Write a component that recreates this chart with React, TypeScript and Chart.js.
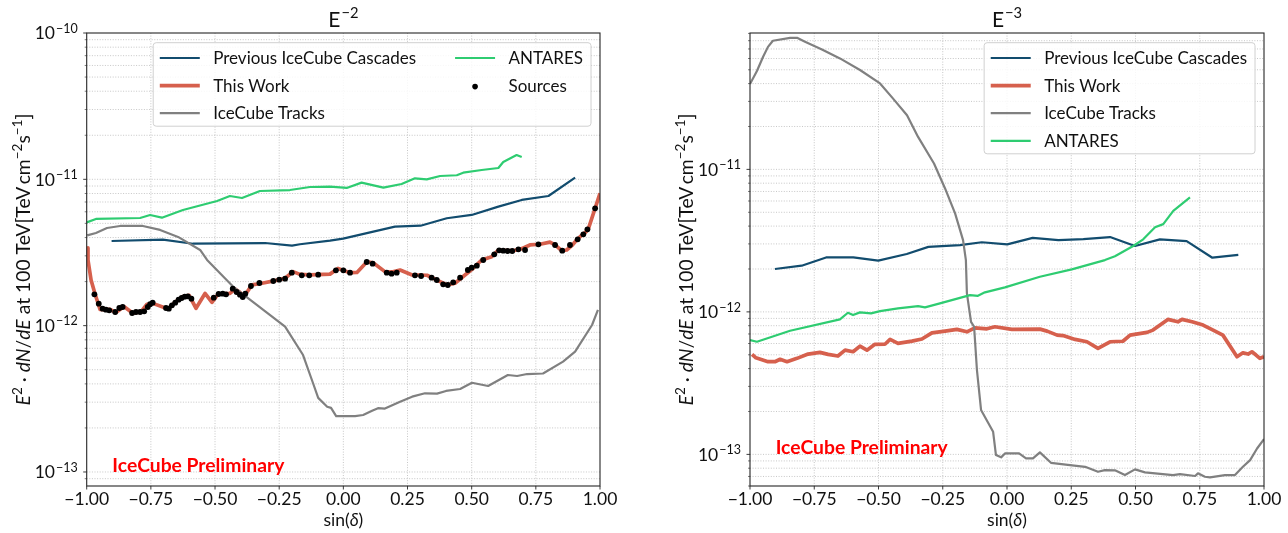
import React, { useEffect, useRef } from "react";
import { Chart, registerables } from "chart.js";
Chart.register(...registerables);

const FONT = "Lato, 'DejaVu Sans', sans-serif";
const MINUS = "\u2212";

// ---------------- Data: E^-2 panel ----------------
const prevE2X = [-0.903, -0.703, -0.586, -0.305, -0.2, -0.169, -0.052, -0.001, 0.201, 0.301, 0.403, 0.5, 0.604, 0.695, 0.799, 0.903];
const prevE2Y = [3.79e-12, 3.87e-12, 3.63e-12, 3.67e-12, 3.52e-12, 3.6e-12, 3.81e-12, 3.93e-12, 4.75e-12, 4.82e-12, 5.42e-12, 5.71e-12, 6.51e-12, 7.23e-12, 7.69e-12, 1.026e-11];

const thisE2X = [-0.998, -0.995, -0.983, -0.968, -0.948, -0.933, -0.909, -0.886, -0.855, -0.82, -0.788, -0.765, -0.742, -0.683, -0.656, -0.625, -0.601, -0.574, -0.539, -0.512, -0.488, -0.442, -0.422, -0.403, -0.387, -0.356, -0.317, -0.266, -0.227, -0.196, -0.169, -0.13, -0.052, -0.021, 0.026, 0.053, 0.092, 0.116, 0.162, 0.193, 0.221, 0.268, 0.326, 0.377, 0.404, 0.435, 0.474, 0.505, 0.539, 0.578, 0.604, 0.662, 0.695, 0.727, 0.766, 0.805, 0.825, 0.851, 0.87, 0.89, 0.909, 0.922, 0.942, 0.954, 0.981, 1.0];
const thisE2Y = [3.4e-12, 2.81e-12, 2.05e-12, 1.66e-12, 1.29e-12, 1.285e-12, 1.29e-12, 1.227e-12, 1.35e-12, 1.215e-12, 1.246e-12, 1.4e-12, 1.42e-12, 1.3e-12, 1.445e-12, 1.58e-12, 1.61e-12, 1.315e-12, 1.66e-12, 1.445e-12, 1.64e-12, 1.66e-12, 1.78e-12, 1.69e-12, 1.58e-12, 1.9e-12, 1.95e-12, 2.03e-12, 2.11e-12, 2.34e-12, 2.24e-12, 2.22e-12, 2.25e-12, 2.46e-12, 2.3e-12, 2.31e-12, 2.73e-12, 2.69e-12, 2.34e-12, 2.33e-12, 2.4e-12, 2.22e-12, 2.21e-12, 2.0e-12, 1.9e-12, 1.95e-12, 2.22e-12, 2.46e-12, 2.81e-12, 2.96e-12, 3.29e-12, 3.25e-12, 3.36e-12, 3.56e-12, 3.6e-12, 3.72e-12, 3.56e-12, 3.25e-12, 3.29e-12, 3.52e-12, 3.85e-12, 4.05e-12, 4.32e-12, 4.55e-12, 6.34e-12, 8.02e-12];

const tracksE2X = [-0.998, -0.964, -0.921, -0.87, -0.781, -0.714, -0.644, -0.558, -0.531, -0.43, -0.336, -0.227, -0.157, -0.118, -0.098, -0.063, -0.048, -0.028, 0.046, 0.077, 0.112, 0.135, 0.162, 0.221, 0.268, 0.318, 0.365, 0.4, 0.455, 0.501, 0.564, 0.641, 0.677, 0.716, 0.778, 0.856, 0.903, 0.969, 0.992];
const tracksE2Y = [4.14e-12, 4.3e-12, 4.65e-12, 4.8e-12, 4.8e-12, 4.51e-12, 4.04e-12, 3.29e-12, 2.81e-12, 1.85e-12, 1.38e-12, 9.84e-13, 6.3e-13, 4.04e-13, 3.21e-13, 2.79e-13, 2.74e-13, 2.41e-13, 2.41e-13, 2.45e-13, 2.62e-13, 2.73e-13, 2.71e-13, 3.02e-13, 3.27e-13, 3.45e-13, 3.43e-13, 3.58e-13, 3.69e-13, 4.07e-13, 3.87e-13, 4.6e-13, 4.53e-13, 4.67e-13, 4.71e-13, 5.68e-13, 6.64e-13, 1.01e-12, 1.28e-12];

const antaresE2X = [-1, -0.964, -0.792, -0.753, -0.707, -0.625, -0.492, -0.442, -0.395, -0.325, -0.208, -0.13, -0.052, 0.013, 0.071, 0.156, 0.227, 0.279, 0.325, 0.377, 0.442, 0.467, 0.539, 0.604, 0.623, 0.675, 0.695];
const antaresE2Y = [5.08e-12, 5.36e-12, 5.44e-12, 5.7e-12, 5.47e-12, 6.17e-12, 7.11e-12, 7.69e-12, 7.45e-12, 8.32e-12, 8.45e-12, 8.86e-12, 8.91e-12, 8.73e-12, 9.49e-12, 8.77e-12, 9.29e-12, 1.016e-11, 1.0e-11, 1.054e-11, 1.066e-11, 1.11e-11, 1.158e-11, 1.195e-11, 1.313e-11, 1.466e-11, 1.42e-11];

const sourcesX = [-0.97, -0.953, -0.938, -0.925, -0.912, -0.889, -0.873, -0.86, -0.823, -0.808, -0.792, -0.776, -0.762, -0.753, -0.743, -0.691, -0.68, -0.668, -0.655, -0.642, -0.63, -0.618, -0.606, -0.592, -0.505, -0.486, -0.47, -0.457, -0.431, -0.416, -0.403, -0.392, -0.382, -0.36, -0.327, -0.273, -0.25, -0.227, -0.201, -0.162, -0.133, -0.098, -0.029, 0.0, 0.026, 0.091, 0.114, 0.169, 0.188, 0.208, 0.279, 0.303, 0.344, 0.364, 0.389, 0.407, 0.428, 0.455, 0.485, 0.5, 0.52, 0.545, 0.588, 0.607, 0.623, 0.64, 0.658, 0.682, 0.708, 0.76, 0.825, 0.853, 0.883, 0.913, 0.935, 0.951, 0.981];
const sourcesY = [1.638e-12, 1.413e-12, 1.306e-12, 1.285e-12, 1.273e-12, 1.24e-12, 1.32e-12, 1.341e-12, 1.22e-12, 1.24e-12, 1.24e-12, 1.253e-12, 1.341e-12, 1.4e-12, 1.435e-12, 1.32e-12, 1.306e-12, 1.378e-12, 1.435e-12, 1.504e-12, 1.545e-12, 1.577e-12, 1.587e-12, 1.528e-12, 1.552e-12, 1.646e-12, 1.653e-12, 1.638e-12, 1.789e-12, 1.698e-12, 1.628e-12, 1.57e-12, 1.653e-12, 1.866e-12, 1.956e-12, 2.019e-12, 2.061e-12, 2.094e-12, 2.301e-12, 2.208e-12, 2.208e-12, 2.229e-12, 2.389e-12, 2.389e-12, 2.301e-12, 2.723e-12, 2.651e-12, 2.301e-12, 2.265e-12, 2.301e-12, 2.208e-12, 2.184e-12, 2.126e-12, 2.051e-12, 1.917e-12, 1.896e-12, 1.978e-12, 2.126e-12, 2.4e-12, 2.489e-12, 2.568e-12, 2.81e-12, 3.074e-12, 3.273e-12, 3.252e-12, 3.237e-12, 3.237e-12, 3.324e-12, 3.289e-12, 3.597e-12, 3.558e-12, 3.252e-12, 3.558e-12, 3.89e-12, 4.21e-12, 4.555e-12, 6.339e-12];

// ---------------- Data: E^-3 panel ----------------
const prevE3X = [-0.903, -0.799, -0.704, -0.598, -0.501, -0.39, -0.306, -0.183, -0.098, 0.001, 0.1, 0.2, 0.297, 0.401, 0.498, 0.595, 0.699, 0.799, 0.9];
const prevE3Y = [2.0e-12, 2.11e-12, 2.41e-12, 2.41e-12, 2.29e-12, 2.55e-12, 2.86e-12, 2.94e-12, 3.08e-12, 2.98e-12, 3.31e-12, 3.19e-12, 3.24e-12, 3.35e-12, 2.9e-12, 3.23e-12, 3.14e-12, 2.4e-12, 2.51e-12];

const thisE3X = [-0.992, -0.977, -0.93, -0.903, -0.883, -0.856, -0.817, -0.774, -0.728, -0.696, -0.658, -0.63, -0.599, -0.572, -0.545, -0.514, -0.475, -0.455, -0.424, -0.37, -0.331, -0.292, -0.241, -0.195, -0.156, -0.125, -0.078, -0.047, 0.019, 0.128, 0.156, 0.195, 0.218, 0.265, 0.311, 0.354, 0.401, 0.451, 0.479, 0.545, 0.568, 0.626, 0.665, 0.681, 0.72, 0.763, 0.802, 0.84, 0.895, 0.918, 0.938, 0.953, 0.969, 0.984, 1.0];
const thisE3Y = [5.03e-13, 4.76e-13, 4.47e-13, 4.47e-13, 4.65e-13, 4.47e-13, 4.72e-13, 5.06e-13, 5.2e-13, 5.03e-13, 4.9e-13, 5.39e-13, 5.25e-13, 5.75e-13, 5.39e-13, 5.92e-13, 5.93e-13, 6.41e-13, 6.01e-13, 6.24e-13, 6.45e-13, 7.13e-13, 7.33e-13, 7.54e-13, 7.25e-13, 7.73e-13, 7.61e-13, 7.86e-13, 7.54e-13, 7.57e-13, 7.33e-13, 6.87e-13, 6.82e-13, 6.41e-13, 6.17e-13, 5.54e-13, 6.17e-13, 6.22e-13, 6.87e-13, 7.18e-13, 7.45e-13, 8.86e-13, 8.52e-13, 8.86e-13, 8.52e-13, 8.08e-13, 7.45e-13, 6.87e-13, 4.84e-13, 5.16e-13, 5.06e-13, 5.25e-13, 4.98e-13, 4.72e-13, 4.84e-13];

const tracksE3X = [-1, -0.973, -0.949, -0.93, -0.911, -0.844, -0.817, -0.786, -0.72, -0.65, -0.572, -0.494, -0.444, -0.389, -0.346, -0.284, -0.241, -0.202, -0.171, -0.16, -0.156, -0.14, -0.128, -0.117, -0.101, -0.054, -0.043, -0.023, -0.008, 0.047, 0.074, 0.101, 0.128, 0.171, 0.245, 0.304, 0.354, 0.381, 0.42, 0.459, 0.498, 0.537, 0.646, 0.673, 0.732, 0.743, 0.77, 0.79, 0.848, 0.887, 0.918, 0.946, 0.973, 1.0];
const tracksE3Y = [3.97e-11, 4.9e-11, 6.17e-11, 7.24e-11, 7.99e-11, 8.38e-11, 8.38e-11, 7.86e-11, 6.95e-11, 6.01e-11, 4.98e-11, 4.01e-11, 3.15e-11, 2.4e-11, 1.69e-11, 1.1e-11, 7.35e-12, 4.91e-12, 3.19e-12, 2.31e-12, 1.35e-12, 8.52e-13, 7.86e-13, 3.91e-13, 2.05e-13, 1.44e-13, 9.89e-14, 9.53e-14, 1.016e-13, 1.016e-13, 9.38e-14, 9.38e-14, 1.033e-13, 8.73e-14, 8.41e-14, 8.18e-14, 7.55e-14, 7.76e-14, 7.73e-14, 7.16e-14, 7.85e-14, 7.48e-14, 7.16e-14, 7.27e-14, 7.05e-14, 7.36e-14, 6.97e-14, 6.9e-14, 7.16e-14, 7.16e-14, 8.18e-14, 9.12e-14, 1.1e-13, 1.28e-13];

const antaresE3X = [-1, -0.973, -0.844, -0.65, -0.619, -0.599, -0.572, -0.529, -0.494, -0.424, -0.346, -0.319, -0.261, -0.144, -0.113, -0.086, -0.008, 0.128, 0.252, 0.381, 0.42, 0.491, 0.53, 0.576, 0.608, 0.647, 0.712];
const antaresE3Y = [6.34e-13, 6.17e-13, 7.37e-13, 8.86e-13, 9.86e-13, 9.5e-13, 9.92e-13, 9.76e-13, 1.013e-12, 1.058e-12, 1.098e-12, 1.075e-12, 1.147e-12, 1.312e-12, 1.297e-12, 1.371e-12, 1.486e-12, 1.763e-12, 1.987e-12, 2.31e-12, 2.46e-12, 2.9e-12, 3.23e-12, 3.92e-12, 4.13e-12, 5.12e-12, 6.36e-12];

// axis ranges and labels
const xTicks = [-1, -0.75, -0.5, -0.25, 0, 0.25, 0.5, 0.75, 1];
const yRangeE2 = [8.02e-14, 1e-10];
const yRangeE3 = [6.0e-14, 9.06e-11];
const titleE2 = ["E", MINUS + "2"];
const titleE3 = ["E", MINUS + "3"];
const LBL_PREV = "Previous IceCube Cascades";
const LBL_THIS = "This Work";
const LBL_TRACKS = "IceCube Tracks";
const LBL_ANTARES = "ANTARES";
const LBL_SOURCES = "Sources";
const WATERMARK = "IceCube Preliminary";

// ---------------- styles ----------------
const C_PREV = "#124c6e";
const C_THIS = "#d6604d";
const C_TRACKS = "#808080";
const C_ANTARES = "#2ecc71";
const C_GRID = "#b9b9b9";

function pts(xs: number[], ys: number[]) {
  return xs.map((x, i) => ({ x, y: ys[i] }));
}

function lineDs(label: string, xs: number[], ys: number[], color: string, width: number, order: number) {
  return {
    label,
    data: pts(xs, ys),
    borderColor: color,
    backgroundColor: color,
    borderWidth: width,
    pointRadius: 0,
    tension: 0,
    fill: false,
    borderJoinStyle: "round",
    order,
  };
}

function logTicks(min: number, max: number) {
  const out: any[] = [];
  for (let e = Math.floor(Math.log10(min)); e <= Math.ceil(Math.log10(max)); e++) {
    for (let k = 1; k <= 9; k++) {
      const v = parseFloat((k * Math.pow(10, e)).toPrecision(8));
      if (v >= min * 0.999999 && v <= max * 1.000001) out.push({ value: v, major: k === 1 });
    }
  }
  return out;
}

function fmtTick(v: number) {
  const s = Math.abs(v).toFixed(2);
  return v < -1e-9 ? MINUS + s : s;
}

type Seg = { t: string; it?: boolean; sup?: boolean };

const yTitleSegs: Seg[] = [
  { t: "E", it: true },
  { t: "2", sup: true },
  { t: " \u00b7 " },
  { t: "dN", it: true },
  { t: "/" },
  { t: "dE", it: true },
  { t: " at 100 TeV[TeV\u2009cm" },
  { t: MINUS + "2", sup: true },
  { t: "s" },
  { t: MINUS + "1", sup: true },
  { t: "]" },
];

function segFont(s: Seg, size: number) {
  const sz = s.sup ? size * 0.7 : size;
  return `${s.it ? "italic " : ""}${sz}px ${FONT}`;
}

function measureSegs(ctx: CanvasRenderingContext2D, segs: Seg[], size: number) {
  let w = 0;
  for (const s of segs) {
    ctx.font = segFont(s, size);
    w += ctx.measureText(s.t).width;
  }
  return w;
}

function drawSegs(ctx: CanvasRenderingContext2D, segs: Seg[], x: number, y: number, size: number) {
  let cx = x;
  ctx.textAlign = "left";
  ctx.textBaseline = "alphabetic";
  for (const s of segs) {
    ctx.font = segFont(s, size);
    ctx.fillText(s.t, cx, s.sup ? y - size * 0.42 : y);
    cx += ctx.measureText(s.t).width;
  }
}

type Spec = {
  title: string[];
  yRange: number[];
  datasets: any[];
  legendCols: string[][];
  yAxisWidth: number;
  canvasWidth: number;
  padRight: number;
};

function makePlugin(spec: Spec) {
  return {
    id: "decor",
    beforeDatasetsDraw(chart: any) {
      const { ctx, chartArea: a, scales } = chart;
      const xs = scales.x;
      const ys = scales.y;
      ctx.save();
      ctx.strokeStyle = C_GRID;
      ctx.lineWidth = 0.8;
      ctx.setLineDash([1, 1.6]);
      for (const t of xs.ticks) {
        const px = xs.getPixelForValue(t.value);
        if (px <= a.left + 0.5 || px >= a.right - 0.5) continue;
        ctx.beginPath();
        ctx.moveTo(px, a.top);
        ctx.lineTo(px, a.bottom);
        ctx.stroke();
      }
      for (const t of ys.ticks) {
        const py = ys.getPixelForValue(t.value);
        if (py <= a.top + 0.5 || py >= a.bottom - 0.5) continue;
        ctx.beginPath();
        ctx.moveTo(a.left, py);
        ctx.lineTo(a.right, py);
        ctx.stroke();
      }
      ctx.restore();
    },
    afterDraw(chart: any) {
      const { ctx, chartArea: a, scales } = chart;
      const xs = scales.x;
      const ys = scales.y;
      ctx.save();
      // frame
      ctx.strokeStyle = "#262626";
      ctx.lineWidth = 1.1;
      ctx.setLineDash([]);
      ctx.strokeRect(a.left, a.top, a.right - a.left, a.bottom - a.top);
      // x ticks
      ctx.lineWidth = 0.9;
      for (const t of xs.ticks) {
        const px = xs.getPixelForValue(t.value);
        ctx.beginPath();
        ctx.moveTo(px, a.bottom);
        ctx.lineTo(px, a.bottom + 3.5);
        ctx.stroke();
      }
      // y ticks
      for (const t of ys.ticks) {
        const py = ys.getPixelForValue(t.value);
        const len = t.major ? 3.5 : 2;
        ctx.lineWidth = t.major ? 0.9 : 0.6;
        ctx.beginPath();
        ctx.moveTo(a.left - len, py);
        ctx.lineTo(a.left, py);
        ctx.stroke();
      }
      // y tick labels 10^n
      ctx.fillStyle = "#111";
      ctx.textBaseline = "alphabetic";
      for (const t of ys.ticks) {
        if (!t.major) continue;
        const py = ys.getPixelForValue(t.value);
        const e = Math.round(Math.log10(t.value));
        const supTxt = (e < 0 ? MINUS : "") + Math.abs(e);
        ctx.font = `12.5px ${FONT}`;
        const ws = ctx.measureText(supTxt).width;
        ctx.font = `17.5px ${FONT}`;
        const wb = ctx.measureText("10").width;
        const right = a.left - 9;
        ctx.textAlign = "left";
        ctx.fillText("10", right - ws - wb - 1, py + 6.3);
        ctx.font = `12.5px ${FONT}`;
        ctx.fillText(supTxt, right - ws, py - 0.3);
      }
      // title
      const cxm = (a.left + a.right) / 2;
      ctx.font = `21px ${FONT}`;
      const wE = ctx.measureText(spec.title[0]).width;
      ctx.font = `14.7px ${FONT}`;
      const wS = ctx.measureText(spec.title[1]).width;
      const tx = cxm - (wE + 1 + wS) / 2;
      ctx.textAlign = "left";
      ctx.font = `21px ${FONT}`;
      ctx.fillText(spec.title[0], tx, 26.7);
      ctx.font = `14.7px ${FONT}`;
      ctx.fillText(spec.title[1], tx + wE + 1, 18.3);
      // x title sin(δ)
      const xt: Seg[] = [{ t: "sin(" }, { t: "\u03b4", it: true }, { t: ")" }];
      const wx = measureSegs(ctx, xt, 17.5);
      drawSegs(ctx, xt, cxm - wx / 2, 526, 17.5);
      // y title
      const base = 17;
      const wy = measureSegs(ctx, yTitleSegs, base);
      const size = base * (292 / wy);
      const wy2 = measureSegs(ctx, yTitleSegs, size);
      ctx.save();
      ctx.translate(a.left - 57, (a.top + a.bottom) / 2);
      ctx.rotate(-Math.PI / 2);
      drawSegs(ctx, yTitleSegs, -wy2 / 2, 0, size);
      ctx.restore();
      // watermark
      ctx.fillStyle = "#ff0000";
      ctx.font = `bold 19.3px ${FONT}`;
      ctx.textAlign = "left";
      ctx.fillText(WATERMARK, xs.getPixelForValue(-0.9), ys.getPixelForValue(1e-13));
      // legend
      drawLegend(ctx, chart, spec, a);
      ctx.restore();
    },
  };
}

function drawLegend(ctx: CanvasRenderingContext2D, chart: any, spec: Spec, a: any) {
  const fs = 17;
  ctx.font = `${fs}px ${FONT}`;
  const handle = 40;
  const textPad = 13.4;
  const colSpace = 39;
  const padL = 6.6;
  const padR = 8;
  const rowH = 27.6;
  const colW = spec.legendCols.map((col) => handle + textPad + Math.max(...col.map((l) => ctx.measureText(l).width)));
  const nRows = Math.max(...spec.legendCols.map((c) => c.length));
  const boxW = padL + colW.reduce((s, w) => s + w, 0) + colSpace * (spec.legendCols.length - 1) + padR;
  const boxH = 15.3 + (nRows - 1) * rowH + 13;
  const right = a.right - 9;
  const left = right - boxW;
  const top = a.top + 9.7;
  // box
  ctx.save();
  ctx.beginPath();
  const r = 3;
  ctx.moveTo(left + r, top);
  ctx.lineTo(right - r, top);
  ctx.quadraticCurveTo(right, top, right, top + r);
  ctx.lineTo(right, top + boxH - r);
  ctx.quadraticCurveTo(right, top + boxH, right - r, top + boxH);
  ctx.lineTo(left + r, top + boxH);
  ctx.quadraticCurveTo(left, top + boxH, left, top + boxH - r);
  ctx.lineTo(left, top + r);
  ctx.quadraticCurveTo(left, top, left + r, top);
  ctx.closePath();
  ctx.fillStyle = "rgba(255,255,255,0.85)";
  ctx.fill();
  ctx.strokeStyle = "#d0d0d0";
  ctx.lineWidth = 1;
  ctx.stroke();
  ctx.restore();
  const dsByLabel: any = {};
  for (const d of chart.data.datasets) dsByLabel[d.label] = d;
  let cx = left + padL;
  spec.legendCols.forEach((col, ci) => {
    col.forEach((label, ri) => {
      const cy = top + 15.3 + ri * rowH;
      const d = dsByLabel[label];
      if (d.showLine === false) {
        ctx.beginPath();
        ctx.fillStyle = "#000";
        ctx.arc(cx + handle / 2, cy + 1, 2.8, 0, Math.PI * 2);
        ctx.fill();
      } else {
        ctx.beginPath();
        ctx.strokeStyle = d.borderColor;
        ctx.lineWidth = d.borderWidth;
        ctx.setLineDash([]);
        ctx.moveTo(cx, cy);
        ctx.lineTo(cx + handle, cy);
        ctx.stroke();
      }
      ctx.fillStyle = "#111";
      ctx.font = `${fs}px ${FONT}`;
      ctx.textAlign = "left";
      ctx.textBaseline = "alphabetic";
      ctx.fillText(label, cx + handle + textPad, cy + 6.2);
    });
    cx += colW[ci] + colSpace;
  });
}

function buildConfig(spec: Spec): any {
  return {
    type: "line",
    data: { datasets: spec.datasets },
    options: {
      responsive: false,
      animation: false,
      devicePixelRatio: 1,
      events: [],
      layout: { padding: { top: 33, right: spec.padRight, left: 0, bottom: 0 } },
      plugins: { legend: { display: false }, tooltip: { enabled: false }, title: { display: false } },
      scales: {
        x: {
          type: "linear",
          min: -1,
          max: 1,
          grid: { display: false, drawTicks: false },
          border: { display: false },
          afterBuildTicks: (s: any) => {
            s.ticks = xTicks.map((v) => ({ value: v }));
          },
          ticks: {
            autoSkip: false,
            maxRotation: 0,
            padding: 3,
            color: "#111",
            font: { family: FONT, size: 17.5 },
            callback: (v: any) => fmtTick(Number(v)),
          },
          afterFit: (s: any) => {
            s.height = 47;
          },
        },
        y: {
          type: "logarithmic",
          min: spec.yRange[0],
          max: spec.yRange[1],
          grid: { display: false, drawTicks: false },
          border: { display: false },
          ticks: { display: false, callback: () => "" },
          afterBuildTicks: (s: any) => {
            s.ticks = logTicks(spec.yRange[0], spec.yRange[1]);
          },
          afterFit: (s: any) => {
            s.width = spec.yAxisWidth;
          },
        },
      },
    },
    plugins: [makePlugin(spec)],
  };
}

const specE2: Spec = {
  title: titleE2,
  yRange: yRangeE2,
  datasets: [
    { label: LBL_SOURCES, data: pts(sourcesX, sourcesY), showLine: false, pointRadius: 2.9, pointBorderWidth: 0, pointBackgroundColor: "#000", borderColor: "#000", order: 0 },
    lineDs(LBL_ANTARES, antaresE2X, antaresE2Y, C_ANTARES, 2.2, 1),
    lineDs(LBL_TRACKS, tracksE2X, tracksE2Y, C_TRACKS, 2.2, 2),
    lineDs(LBL_THIS, thisE2X, thisE2Y, C_THIS, 3.7, 3),
    lineDs(LBL_PREV, prevE2X, prevE2Y, C_PREV, 2.2, 4),
  ],
  legendCols: [
    [LBL_PREV, LBL_THIS, LBL_TRACKS],
    [LBL_ANTARES, LBL_SOURCES],
  ],
  yAxisWidth: 86.7,
  canvasWidth: 640,
  padRight: 40,
};

const specE3: Spec = {
  title: titleE3,
  yRange: yRangeE3,
  datasets: [
    lineDs(LBL_ANTARES, antaresE3X, antaresE3Y, C_ANTARES, 2.2, 1),
    lineDs(LBL_TRACKS, tracksE3X, tracksE3Y, C_TRACKS, 2.2, 2),
    lineDs(LBL_THIS, thisE3X, thisE3Y, C_THIS, 3.7, 3),
    lineDs(LBL_PREV, prevE3X, prevE3Y, C_PREV, 2.2, 4),
  ],
  legendCols: [[LBL_PREV, LBL_THIS, LBL_TRACKS, LBL_ANTARES]],
  yAxisWidth: 110,
  canvasWidth: 648,
  padRight: 24,
};

function Panel({ spec, left }: { spec: Spec; left: number }) {
  const ref = useRef<HTMLCanvasElement>(null);
  useEffect(() => {
    const chart = new Chart(ref.current as HTMLCanvasElement, buildConfig(spec));
    return () => chart.destroy();
  }, [spec]);
  return (
    <canvas
      ref={ref}
      width={spec.canvasWidth}
      height={533}
      style={{ position: "absolute", left, top: 0, width: spec.canvasWidth, height: 533 }}
    />
  );
}

export default function App() {
  return (
    <div style={{ position: "absolute", left: 0, top: 0, width: 1288, height: 533, background: "#fff", overflow: "hidden" }}>
      <Panel spec={specE2} left={0} />
      <Panel spec={specE3} left={640} />
    </div>
  );
}
